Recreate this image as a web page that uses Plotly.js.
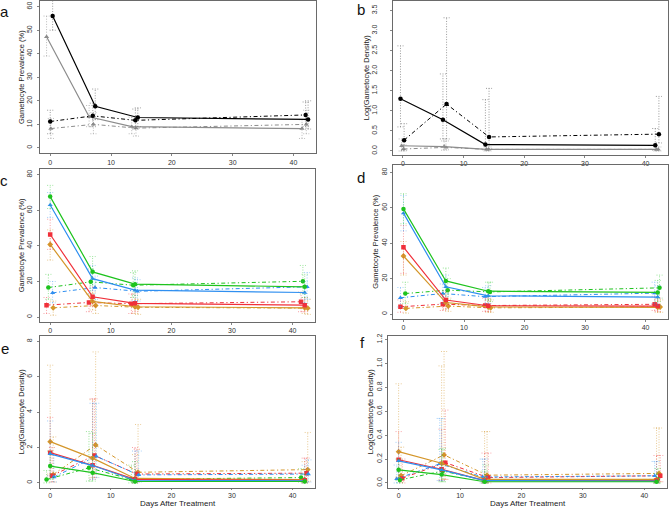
<!DOCTYPE html>
<html>
<head>
<meta charset="utf-8">
<script src="https://cdn.plot.ly/plotly-3.0.1.min.js"></script>
<style>html,body{margin:0;padding:0;background:#fff;}#chart{width:670px;height:508px;}</style>
</head>
<body>
<div id="chart"></div>
<script>
// ---------- data ----------
const days = [0, 7, 14, 42];
const xTicks = [0, 10, 20, 30, 40];

// panel a : gametocyte prevalence (%)
const aBlackSolid = [56, 17.7, 12.9, 12.1];
const aBlackSolidLo = [50, 12, 9, 8];
const aBlackSolidHi = [63, 25, 17, 20];
const aBlackDash = [11.2, 13.6, 11.7, 14.0];
const aBlackDashLo = [6, 9, 8, 9];
const aBlackDashHi = [16, 19, 16.5, 19.5];
const aGraySolid = [47.2, 13.2, 9.0, 8.2];
const aGraySolidLo = [39, 9, 6, 4];
const aGraySolidHi = [56, 18, 13, 12];
const aGrayDash = [8.2, 10.0, 8.4, 10.0];
const aGrayDashLo = [4, 6, 5, 6];
const aGrayDashHi = [12.5, 15, 12, 16];
const aTicks = [0, 10, 20, 30, 40, 50, 60];

// panel b : log(gametocyte density)
const bBlackSolid = [1.30, 0.78, 0.16, 0.14];
const bBlackSolidLo = [0.6, 0.3, 0.03, 0.02];
const bBlackSolidHi = [2.62, 1.92, 1.28, 0.56];
const bBlackDash = [0.27, 1.17, 0.35, 0.42];
const bBlackDashLo = [0.02, 0.3, 0.05, 0.2];
const bBlackDashHi = [0.68, 3.32, 1.56, 1.36];
const bGraySolid = [0.13, 0.11, 0.04, 0.04];
const bGraySolidLo = [0.0, 0.02, 0.0, 0.0];
const bGraySolidHi = [0.3, 0.25, 0.1, 0.1];
const bGrayDash = [0.05, 0.09, 0.04, 0.04];
const bGrayDashLo = [0.0, 0.03, 0.0, 0.0];
const bGrayDashHi = [0.15, 0.25, 0.1, 0.1];
const bTicks = [0, 0.5, 1, 1.5, 2, 2.5, 3, 3.5];
const bTickText = ['0.0', '0.5', '1.0', '1.5', '2.0', '2.5', '3.0', '3.5'];

// panel c : prevalence by group
const cGreenSolid = [67.7, 25.4, 18.5, 17.0];
const cGreenSolidLo = [61, 18, 12, 11];
const cGreenSolidHi = [74, 34, 26, 24];
const cBlueSolid = [63.0, 21.6, 15.1, 13.8];
const cBlueSolidLo = [56, 15, 9, 8];
const cBlueSolidHi = [70, 29, 22, 20];
const cRedSolid = [46.4, 11.4, 7.7, 6.7];
const cRedSolidLo = [38, 6, 3, 3];
const cRedSolidHi = [55, 17, 13, 11];
const cOrangeSolid = [40.8, 8.8, 5.8, 5.2];
const cOrangeSolidLo = [32, 4, 2, 2];
const cOrangeSolidHi = [49, 14, 10, 9];
const cGreenDash = [16.6, 19.8, 17.9, 20.1];
const cGreenDashLo = [10, 13, 11, 13];
const cGreenDashHi = [24, 27, 25, 29];
const cBlueDash = [13.6, 16.6, 14.5, 17.0];
const cBlueDashLo = [8, 10, 9, 10];
const cBlueDashHi = [20, 23, 21, 25];
const cRedDash = [6.7, 8.2, 7.5, 8.6];
const cRedDashLo = [2, 3, 2, 3];
const cRedDashHi = [11, 13, 13, 14];
const cOrangeDash = [5.2, 6.5, 5.5, 5.0];
const cOrangeDashLo = [1, 2, 1.5, 1.5];
const cOrangeDashHi = [9, 11, 10, 10];
const cdTicks = [0, 20, 40, 60, 80];

// panel d : prevalence by group
const dGreenSolid = [59.4, 18.7, 12.9, 12.2];
const dGreenSolidLo = [51, 12, 8, 7];
const dGreenSolidHi = [68, 26, 18, 19];
const dBlueSolid = [57.0, 15.4, 10.3, 9.6];
const dBlueSolidLo = [47, 10, 6, 5];
const dBlueSolidHi = [67, 22, 16, 16];
const dRedSolid = [37.8, 7.9, 4.7, 4.5];
const dRedSolidLo = [23, 3, 1.5, 1.5];
const dRedSolidHi = [50, 13, 9, 9];
const dOrangeSolid = [32.8, 6.5, 4.0, 3.8];
const dOrangeSolidLo = [22, 2.5, 1, 1];
const dOrangeSolidHi = [41, 11, 8, 8];
const dGreenDash = [11.6, 13.5, 12.5, 14.8];
const dGreenDashLo = [6, 8, 7, 9];
const dGreenDashHi = [18, 20, 18, 22];
const dBlueDash = [9.2, 11.6, 9.8, 11.8];
const dBlueDashLo = [4, 6, 5, 6];
const dBlueDashHi = [15, 17, 15, 18];
const dRedDash = [4.1, 5.6, 4.8, 5.5];
const dRedDashLo = [1, 2, 1.5, 2];
const dRedDashHi = [8, 10, 9, 10];
const dOrangeDash = [3.2, 4.5, 3.5, 4.0];
const dOrangeDashLo = [0.5, 1.5, 1, 1];
const dOrangeDashHi = [7, 9, 8, 8];

// panel e : log density by group
const eOrangeSolid = [2.33, 1.40, 0.25, 0.18];
const eOrangeSolidLo = [0.5, 0.3, 0, 0];
const eOrangeSolidHi = [6.65, 4.7, 1.6, 1.2];
const eRedSolid = [1.71, 1.00, 0.20, 0.15];
const eRedSolidLo = [0.4, 0.2, 0, 0];
const eRedSolidHi = [3.7, 4.75, 2.0, 1.4];
const eBlueSolid = [1.64, 0.98, 0.15, 0.12];
const eBlueSolidLo = [0.4, 0.2, 0, 0];
const eBlueSolidHi = [3.5, 4.5, 1.8, 1.0];
const eGreenSolid = [0.95, 0.58, 0.08, 0.08];
const eGreenSolidLo = [0.2, 0.1, 0, 0];
const eGreenSolidHi = [1.8, 2.8, 1.2, 0.5];
const eOrangeDash = [0.47, 2.14, 0.60, 0.75];
const eOrangeDashLo = [0.05, 0.5, 0.1, 0.1];
const eOrangeDashHi = [2.6, 7.4, 3.3, 2.85];
const eRedDash = [0.41, 1.55, 0.50, 0.55];
const eRedDashLo = [0.05, 0.3, 0.05, 0.05];
const eRedDashHi = [2.0, 4.75, 1.9, 1.4];
const eBlueDash = [0.33, 1.50, 0.45, 0.50];
const eBlueDashLo = [0.05, 0.3, 0.05, 0.05];
const eBlueDashHi = [1.6, 4.5, 1.8, 1.3];
const eGreenDash = [0.19, 0.85, 0.20, 0.30];
const eGreenDashLo = [0, 0.1, 0, 0.05];
const eGreenDashHi = [0.7, 2.9, 1.0, 0.8];
const eTicks = [0, 2, 4, 6, 8];

// panel f : log density by group
const fOrangeSolid = [0.262, 0.165, 0.03, 0.03];
const fOrangeSolidLo = [0.05, 0.03, 0, 0];
const fOrangeSolidHi = [0.83, 0.98, 0.43, 0.46];
const fRedSolid = [0.194, 0.115, 0.02, 0.02];
const fRedSolidLo = [0.04, 0.02, 0, 0];
const fRedSolidHi = [0.43, 0.45, 0.25, 0.23];
const fBlueSolid = [0.185, 0.11, 0.02, 0.015];
const fBlueSolidLo = [0.04, 0.02, 0, 0];
const fBlueSolidHi = [0.34, 0.54, 0.2, 0.18];
const fGreenSolid = [0.11, 0.07, 0.01, 0.01];
const fGreenSolidLo = [0.02, 0.01, 0, 0];
const fGreenSolidHi = [0.2, 0.28, 0.1, 0.08];
const fOrangeDash = [0.06, 0.235, 0.065, 0.08];
const fOrangeDashLo = [0.01, 0.03, 0.01, 0.01];
const fOrangeDashHi = [0.3, 1.1, 0.43, 0.46];
const fRedDash = [0.04, 0.17, 0.045, 0.06];
const fRedDashLo = [0, 0.03, 0, 0.01];
const fRedDashHi = [0.2, 0.61, 0.25, 0.23];
const fBlueDash = [0.035, 0.16, 0.05, 0.06];
const fBlueDashLo = [0, 0.02, 0, 0.01];
const fBlueDashHi = [0.15, 0.54, 0.2, 0.18];
const fGreenDash = [0.025, 0.10, 0.02, 0.03];
const fGreenDashLo = [0, 0.01, 0, 0];
const fGreenDashHi = [0.1, 0.29, 0.15, 0.12];
const fTicks = [0, 0.2, 0.4, 0.6, 0.8, 1.0, 1.2];
const fTickText = ['0.0', '0.2', '0.4', '0.6', '0.8', '1.0', '1.2'];

const panelLabels = ['a', 'b', 'c', 'd', 'e', 'f'];
const prevTitle = 'Gametocyte Prevalence (%)';
const densTitle = 'Log(Gametocyte Density)';
const xTitle = 'Days After Treatment';

// ---------- styles ----------
const COL = {
  black: '#000000', gray: '#8c8c8c',
  green: '#1ec31e', blue: '#2f8ff0', red: '#f0303a', orange: '#d4962a'
};
const ERR = {
  black: 'rgba(120,120,120,0.75)', gray: 'rgba(170,170,170,0.8)',
  green: 'rgba(30,195,30,0.45)', blue: 'rgba(47,143,240,0.45)',
  red: 'rgba(240,48,58,0.45)', orange: 'rgba(212,150,42,0.5)'
};
const SYM = { black: 'circle', gray: 'triangle-up', green: 'circle', blue: 'triangle-up', red: 'square', orange: 'diamond' };
const DASHDOT = '4px,2.5px,1.2px,2.5px';
const traces = [];

function addSeries(n, ys, lo, hi, col, dashed, jit) {
  const xs = days.map(d => d + jit);
  const ex = [], ey = [];
  const cap = 0.5;
  xs.forEach((x, i) => {
    ex.push(x, x, null, x - cap, x + cap, null, x - cap, x + cap, null);
    ey.push(lo[i], hi[i], null, lo[i], lo[i], null, hi[i], hi[i], null);
  });
  traces.push({
    x: ex, y: ey, mode: 'lines', xaxis: 'x' + n, yaxis: 'y' + n,
    line: { color: ERR[col], width: 1, dash: '1px,1.6px' },
    hoverinfo: 'skip', showlegend: false
  });
  traces.push({
    x: xs, y: ys, mode: 'lines+markers', xaxis: 'x' + n, yaxis: 'y' + n,
    line: { color: COL[col], width: dashed ? 1 : 1.2, dash: dashed ? DASHDOT : 'solid' },
    marker: { symbol: SYM[col], size: 4.5, color: COL[col] },
    showlegend: false
  });
}

// panel a
addSeries(1, aGrayDash, aGrayDashLo, aGrayDashHi, 'gray', true, 0.1);
addSeries(1, aGraySolid, aGraySolidLo, aGraySolidHi, 'gray', false, -0.6);
addSeries(1, aBlackDash, aBlackDashLo, aBlackDashHi, 'black', true, 0.0);
addSeries(1, aBlackSolid, aBlackSolidLo, aBlackSolidHi, 'black', false, 0.4);
// panel b
addSeries(2, bGrayDash, bGrayDashLo, bGrayDashHi, 'gray', true, 0.1);
addSeries(2, bGraySolid, bGraySolidLo, bGraySolidHi, 'gray', false, -0.2);
addSeries(2, bBlackDash, bBlackDashLo, bBlackDashHi, 'black', true, 0.2);
addSeries(2, bBlackSolid, bBlackSolidLo, bBlackSolidHi, 'black', false, -0.4);
// panel c
addSeries(3, cOrangeDash, cOrangeDashLo, cOrangeDashHi, 'orange', true, 0.5);
addSeries(3, cRedDash, cRedDashLo, cRedDashHi, 'red', true, -0.6);
addSeries(3, cBlueDash, cBlueDashLo, cBlueDashHi, 'blue', true, 0.4);
addSeries(3, cGreenDash, cGreenDashLo, cGreenDashHi, 'green', true, -0.3);
addSeries(3, cOrangeSolid, cOrangeSolidLo, cOrangeSolidHi, 'orange', false, 0.0);
addSeries(3, cRedSolid, cRedSolidLo, cRedSolidHi, 'red', false, 0.0);
addSeries(3, cBlueSolid, cBlueSolidLo, cBlueSolidHi, 'blue', false, 0.0);
addSeries(3, cGreenSolid, cGreenSolidLo, cGreenSolidHi, 'green', false, 0.0);
// panel d
addSeries(4, dOrangeDash, dOrangeDashLo, dOrangeDashHi, 'orange', true, 0.4);
addSeries(4, dRedDash, dRedDashLo, dRedDashHi, 'red', true, -0.5);
addSeries(4, dBlueDash, dBlueDashLo, dBlueDashHi, 'blue', true, -0.5);
addSeries(4, dGreenDash, dGreenDashLo, dGreenDashHi, 'green', true, 0.3);
addSeries(4, dOrangeSolid, dOrangeSolidLo, dOrangeSolidHi, 'orange', false, 0.0);
addSeries(4, dRedSolid, dRedSolidLo, dRedSolidHi, 'red', false, 0.0);
addSeries(4, dBlueSolid, dBlueSolidLo, dBlueSolidHi, 'blue', false, 0.0);
addSeries(4, dGreenSolid, dGreenSolidLo, dGreenSolidHi, 'green', false, 0.0);
// panel e
addSeries(5, eOrangeDash, eOrangeDashLo, eOrangeDashHi, 'orange', true, 0.5);
addSeries(5, eRedDash, eRedDashLo, eRedDashHi, 'red', true, 0.3);
addSeries(5, eBlueDash, eBlueDashLo, eBlueDashHi, 'blue', true, 0.6);
addSeries(5, eGreenDash, eGreenDashLo, eGreenDashHi, 'green', true, -0.6);
addSeries(5, eOrangeSolid, eOrangeSolidLo, eOrangeSolidHi, 'orange', false, 0.0);
addSeries(5, eRedSolid, eRedSolidLo, eRedSolidHi, 'red', false, 0.0);
addSeries(5, eBlueSolid, eBlueSolidLo, eBlueSolidHi, 'blue', false, 0.0);
addSeries(5, eGreenSolid, eGreenSolidLo, eGreenSolidHi, 'green', false, 0.0);
// panel f
addSeries(6, fOrangeDash, fOrangeDashLo, fOrangeDashHi, 'orange', true, 0.4);
addSeries(6, fRedDash, fRedDashLo, fRedDashHi, 'red', true, 0.6);
addSeries(6, fBlueDash, fBlueDashLo, fBlueDashHi, 'blue', true, -0.3);
addSeries(6, fGreenDash, fGreenDashLo, fGreenDashHi, 'green', true, 0.2);
addSeries(6, fOrangeSolid, fOrangeSolidLo, fOrangeSolidHi, 'orange', false, 0.0);
addSeries(6, fRedSolid, fRedSolidLo, fRedSolidHi, 'red', false, 0.0);
addSeries(6, fBlueSolid, fBlueSolidLo, fBlueSolidHi, 'blue', false, 0.0);
addSeries(6, fGreenSolid, fGreenSolidLo, fGreenSolidHi, 'green', false, 0.0);

// ---------- layout ----------
const W = 670, H = 508;
const px = v => v / W, py = v => 1 - v / H;
// frames in pixels [left, right, top, bottom]
const frames = [
  [40, 316, 1, 153.3],
  [392.7, 668, 0.5, 155],
  [40, 315, 169, 321.7],
  [393.3, 668, 164.5, 319],
  [40, 315, 336, 487.5],
  [388.3, 667, 336, 487.5]
];
const yRanges = [[-2.3, 62.4], [-0.1, 3.75], [-2.6, 83.2], [-2.8, 84.5], [-0.26, 8.3], [-0.038, 1.23]];
const yTickVals = [aTicks, bTicks, cdTicks, cdTicks, eTicks, fTicks];
const yTickText = [aTicks.map(String), bTickText, cdTicks.map(String), cdTicks.map(String), eTicks.map(String), fTickText];
const yTitles = [prevTitle, densTitle, prevTitle, prevTitle, densTitle, densTitle];
const yLabelStand = [2, 10, 2, 1, 2, 1];

const font = 'Liberation Sans, Arial, sans-serif';
const layout = {
  width: W, height: H, autosize: false,
  margin: { l: 0, r: 0, t: 0, b: 0 },
  paper_bgcolor: '#fff', plot_bgcolor: '#fff',
  font: { family: font, color: '#333', size: 7 },
  showlegend: false,
  annotations: []
};
frames.forEach((f, i) => {
  const n = i + 1;
  layout['xaxis' + n] = {
    domain: [px(f[0]), px(f[1])], anchor: 'y' + n,
    range: [-1.68, 43.7], tickvals: xTicks,
    ticks: 'outside', ticklen: n >= 5 ? 1 : 2, tickcolor: '#666', tickwidth: 0.8,
    tickfont: { size: 7, color: '#333', family: font },
    showline: true, mirror: true, linecolor: '#6a6a6a', linewidth: 1,
    showgrid: false, zeroline: false
  };
  layout['yaxis' + n] = {
    domain: [py(f[3]), py(f[2])], anchor: 'x' + n,
    range: yRanges[i], tickvals: yTickVals[i], ticktext: yTickText[i],
    tickangle: -90,
    ticks: 'outside', ticklen: 2, tickcolor: '#666', tickwidth: 0.8,
    ticklabelstandoff: yLabelStand[i],
    tickfont: { size: 7, color: '#333', family: font },
    showline: true, mirror: true, linecolor: '#6a6a6a', linewidth: 1,
    showgrid: false, zeroline: false,
    title: { text: yTitles[i], font: { size: 7.5, color: '#222', family: font }, standoff: 0 }
  };
  if (n >= 5) {
    layout.annotations.push({
      text: xTitle, xref: 'paper', yref: 'paper',
      x: px((f[0] + f[1]) / 2), y: py(503), xanchor: 'center', yanchor: 'middle',
      showarrow: false, borderpad: 0, font: { size: 8, color: '#222', family: font }
    });
  }
});
const labelPos = [[4, 12], [361, 10], [4, 180], [361, 177], [5, 348], [362, 342]];
panelLabels.forEach((t, i) => {
  layout.annotations.push({
    text: t, xref: 'paper', yref: 'paper', x: px(labelPos[i][0]), y: py(labelPos[i][1]),
    xanchor: 'center', yanchor: 'middle', showarrow: false,
    font: { size: 15, color: '#111', family: font }
  });
});

Plotly.newPlot('chart', traces, layout, { staticPlot: true, displayModeBar: false });
</script>
</body>
</html>
